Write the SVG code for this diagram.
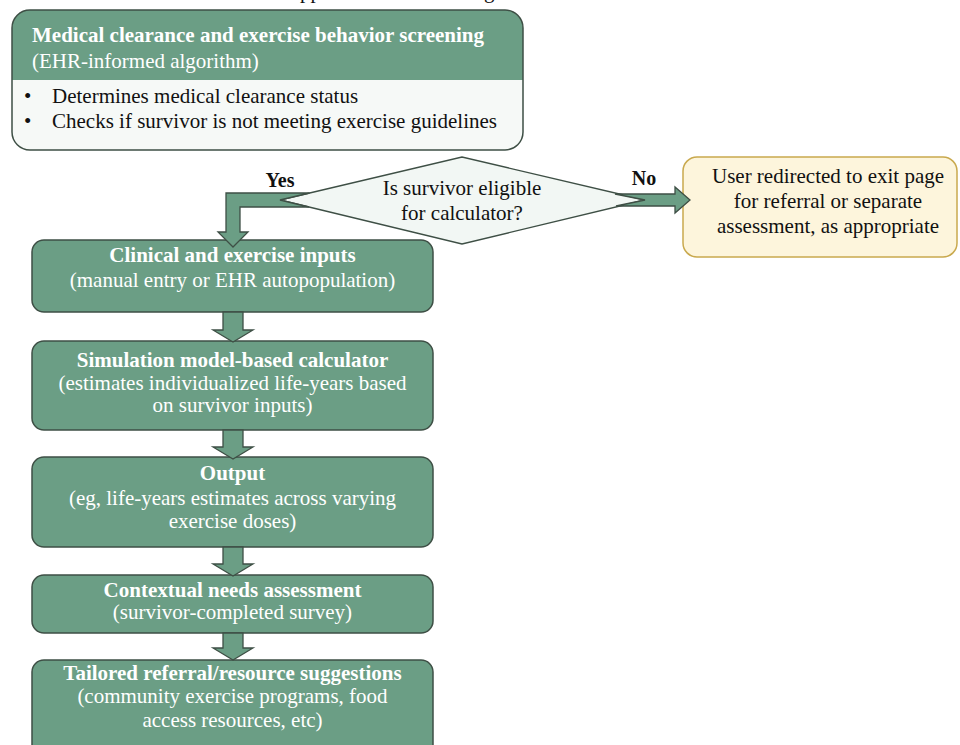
<svg xmlns="http://www.w3.org/2000/svg" width="960" height="745" viewBox="0 0 960 745" font-family="'Liberation Serif', 'Times New Roman', Times, serif" font-size="21">
<style>
  text { font-family: 'Liberation Serif', 'Times New Roman', Times, serif; font-size: 21px; }
  .w { fill: #ffffff; }
  .k { fill: #111111; }
  .b { font-weight: bold; }
  .c { text-anchor: middle; }
  .gbox { fill: #6b9e85; stroke: #3e4f45; stroke-width: 1.5; }
  .arrow { fill: #6b9e85; stroke: #3e4f45; stroke-width: 1.3; stroke-linejoin: miter; }
</style>
<rect width="960" height="745" fill="#ffffff"/>
<text class="k" x="300" y="-2">pp</text>
<text class="k" x="484" y="-2">g</text>

<g id="screening">
  <defs>
    <clipPath id="topclip"><rect x="12" y="10" width="511" height="140" rx="18"/></clipPath>
  </defs>
  <g clip-path="url(#topclip)">
    <rect x="12" y="10" width="511" height="140" fill="#f6f9f7"/>
    <rect x="12" y="10" width="511" height="70" fill="#6b9e85"/>
  </g>
  <rect x="12" y="10" width="511" height="140" rx="18" fill="none" stroke="#3e4f45" stroke-width="1.5"/>
  <text class="w b" x="32" y="42">Medical clearance and exercise behavior screening</text>
  <text class="w" x="32" y="68">(EHR-informed algorithm)</text>
  <text class="k" x="24" y="103">•</text>
  <text class="k" x="52" y="103">Determines medical clearance status</text>
  <text class="k" x="24" y="128">•</text>
  <text class="k" x="52" y="128">Checks if survivor is not meeting exercise guidelines</text>
</g>

<g id="eligible">
  <polygon points="280,200 462,157 645,200 462,244" fill="#f2f7f4" stroke="#3e4f45" stroke-width="1.3"/>
  <text class="k c" x="462" y="195">Is survivor eligible</text>
  <text class="k c" x="462" y="220">for calculator?</text>
</g>

<g id="exit">
  <rect x="683" y="157" width="274" height="100" rx="14" fill="#fdf5dc" stroke="#c9a94e" stroke-width="1.5"/>
  <text class="k c" x="828" y="183">User redirected to exit page</text>
  <text class="k c" x="828" y="208">for referral or separate</text>
  <text class="k c" x="828" y="233">assessment, as appropriate</text>
</g>

<g id="inputs">
  <rect class="gbox" x="32" y="240" width="401" height="72" rx="12"/>
  <text class="w b c" x="232.5" y="262">Clinical and exercise inputs</text>
  <text class="w c" x="232.5" y="287">(manual entry or EHR autopopulation)</text>
</g>

<g id="calculator">
  <rect class="gbox" x="32" y="341" width="401" height="89" rx="12"/>
  <text class="w b c" x="232.5" y="367">Simulation model-based calculator</text>
  <text class="w c" x="232.5" y="390">(estimates individualized life-years based</text>
  <text class="w c" x="232.5" y="412">on survivor inputs)</text>
</g>

<g id="output">
  <rect class="gbox" x="32" y="457" width="401" height="90" rx="12"/>
  <text class="w b c" x="232.5" y="480">Output</text>
  <text class="w c" x="232.5" y="505">(eg, life-years estimates across varying</text>
  <text class="w c" x="232.5" y="528">exercise doses)</text>
</g>

<g id="needs">
  <rect class="gbox" x="32" y="575" width="401" height="58" rx="12"/>
  <text class="w b c" x="232.5" y="597">Contextual needs assessment</text>
  <text class="w c" x="232.5" y="619">(survivor-completed survey)</text>
</g>

<g id="referral">
  <rect class="gbox" x="32" y="660" width="401" height="100" rx="12"/>
  <text class="w b c" x="232.5" y="680">Tailored referral/resource suggestions</text>
  <text class="w c" x="232.5" y="703">(community exercise programs, food</text>
  <text class="w c" x="232.5" y="727">access resources, etc)</text>
</g>

<g id="connectors">
  <polygon class="arrow" points="309.6,193 226,193 226,232 218,232 233,247 248,232 240,232 240,207 309,207 280,200"/>
  <polygon class="arrow" points="615,194 675,194 675,187 690,200 675,213 675,206 616,206 645,200"/>
  <polygon class="arrow" points="223,312 243,312 243,330 253,330 233,342 213,330 223,330"/>
  <polygon class="arrow" points="223,430 243,430 243,447 253,447 233,459 213,447 223,447"/>
  <polygon class="arrow" points="223,547 243,547 243,564 253,564 233,576 213,564 223,564"/>
  <polygon class="arrow" points="223,633 243,633 243,648 253,648 233,660 213,648 223,648"/>
  <text class="k b c" x="280" y="187" style="font-size:20px">Yes</text>
  <text class="k b c" x="644" y="185" style="font-size:20px">No</text>
</g>
</svg>
